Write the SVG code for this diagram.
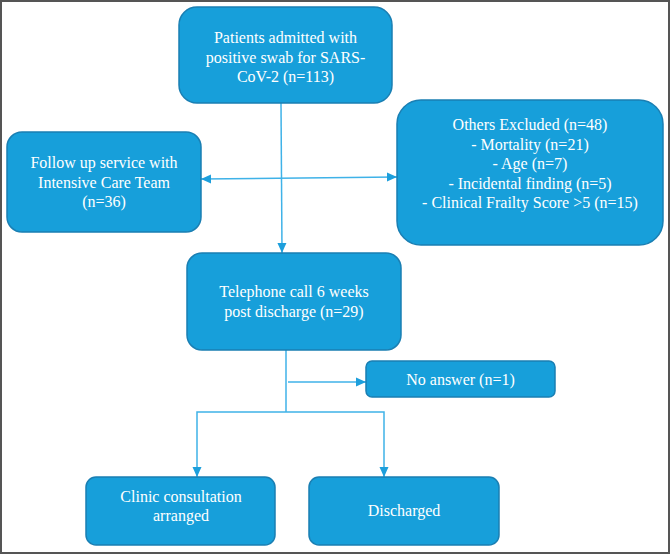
<svg xmlns="http://www.w3.org/2000/svg" width="671" height="555" viewBox="0 0 671 555">
  <style>
    .box { fill: #179fda; stroke: #1a7fb3; stroke-width: 1.5; }
    .lbl { font-family: "Liberation Serif", "Times New Roman", serif; font-size: 16px; fill: #ffffff; text-anchor: middle; }
    .conn { stroke: #3fb2e8; stroke-width: 1.5; fill: none; }
  </style>
  <defs>
    <marker id="arr" markerUnits="userSpaceOnUse" markerWidth="10" markerHeight="10" viewBox="0 0 10 10" refX="10" refY="5" orient="auto-start-reverse">
      <path d="M0,0.5 L10,5 L0,9.5 Z" fill="#1d9fdc"/>
    </marker>
  </defs>
  <rect x="0" y="0" width="671" height="555" fill="#ffffff"/>
  <rect x="1" y="1" width="668" height="552" fill="none" stroke="#555555" stroke-width="2"/>

  <g id="connectors">
    <line class="conn" x1="281" y1="103" x2="282" y2="253" marker-end="url(#arr)"/>
    <line class="conn" x1="201" y1="179" x2="397" y2="177" marker-start="url(#arr)" marker-end="url(#arr)"/>
    <polyline class="conn" points="286,350 286,412"/>
    <line class="conn" x1="288" y1="382" x2="366" y2="382" marker-end="url(#arr)"/>
    <polyline class="conn" points="197,477 197,412 384,412 384,477" marker-start="url(#arr)" marker-end="url(#arr)"/>
  </g>

  <g id="admitted">
    <rect class="box" x="179" y="7" width="213" height="96" rx="18"/>
    <text class="lbl" x="285.5" y="43">Patients admitted with</text>
    <text class="lbl" x="285.5" y="62.5">positive swab for SARS-</text>
    <text class="lbl" x="285.5" y="82">CoV-2 (n=113)</text>
  </g>

  <g id="followup">
    <rect class="box" x="7" y="132" width="194" height="100" rx="15"/>
    <text class="lbl" x="104" y="168">Follow up service with</text>
    <text class="lbl" x="104" y="188">Intensive Care Team</text>
    <text class="lbl" x="104" y="207">(n=36)</text>
  </g>

  <g id="excluded">
    <rect class="box" x="397" y="100" width="266" height="145" rx="24"/>
    <text class="lbl" x="530" y="130">Others Excluded (n=48)</text>
    <text class="lbl" x="530" y="149.5">- Mortality (n=21)</text>
    <text class="lbl" x="530" y="169">- Age (n=7)</text>
    <text class="lbl" x="530" y="188.5">- Incidental finding (n=5)</text>
    <text class="lbl" x="530" y="208">- Clinical Frailty Score &gt;5 (n=15)</text>
  </g>

  <g id="telephone">
    <rect class="box" x="187" y="253" width="214" height="97" rx="15"/>
    <text class="lbl" x="294" y="297">Telephone call 6 weeks</text>
    <text class="lbl" x="294" y="317">post discharge (n=29)</text>
  </g>

  <g id="noanswer">
    <rect class="box" x="366" y="361" width="189" height="36" rx="6"/>
    <text class="lbl" x="460.5" y="385">No answer (n=1)</text>
  </g>

  <g id="clinic">
    <rect class="box" x="86" y="477" width="189" height="68" rx="10"/>
    <text class="lbl" x="181" y="502">Clinic consultation</text>
    <text class="lbl" x="181" y="521">arranged</text>
  </g>

  <g id="discharged">
    <rect class="box" x="309" y="477" width="190" height="68" rx="10"/>
    <text class="lbl" x="404" y="516">Discharged</text>
  </g>
</svg>
